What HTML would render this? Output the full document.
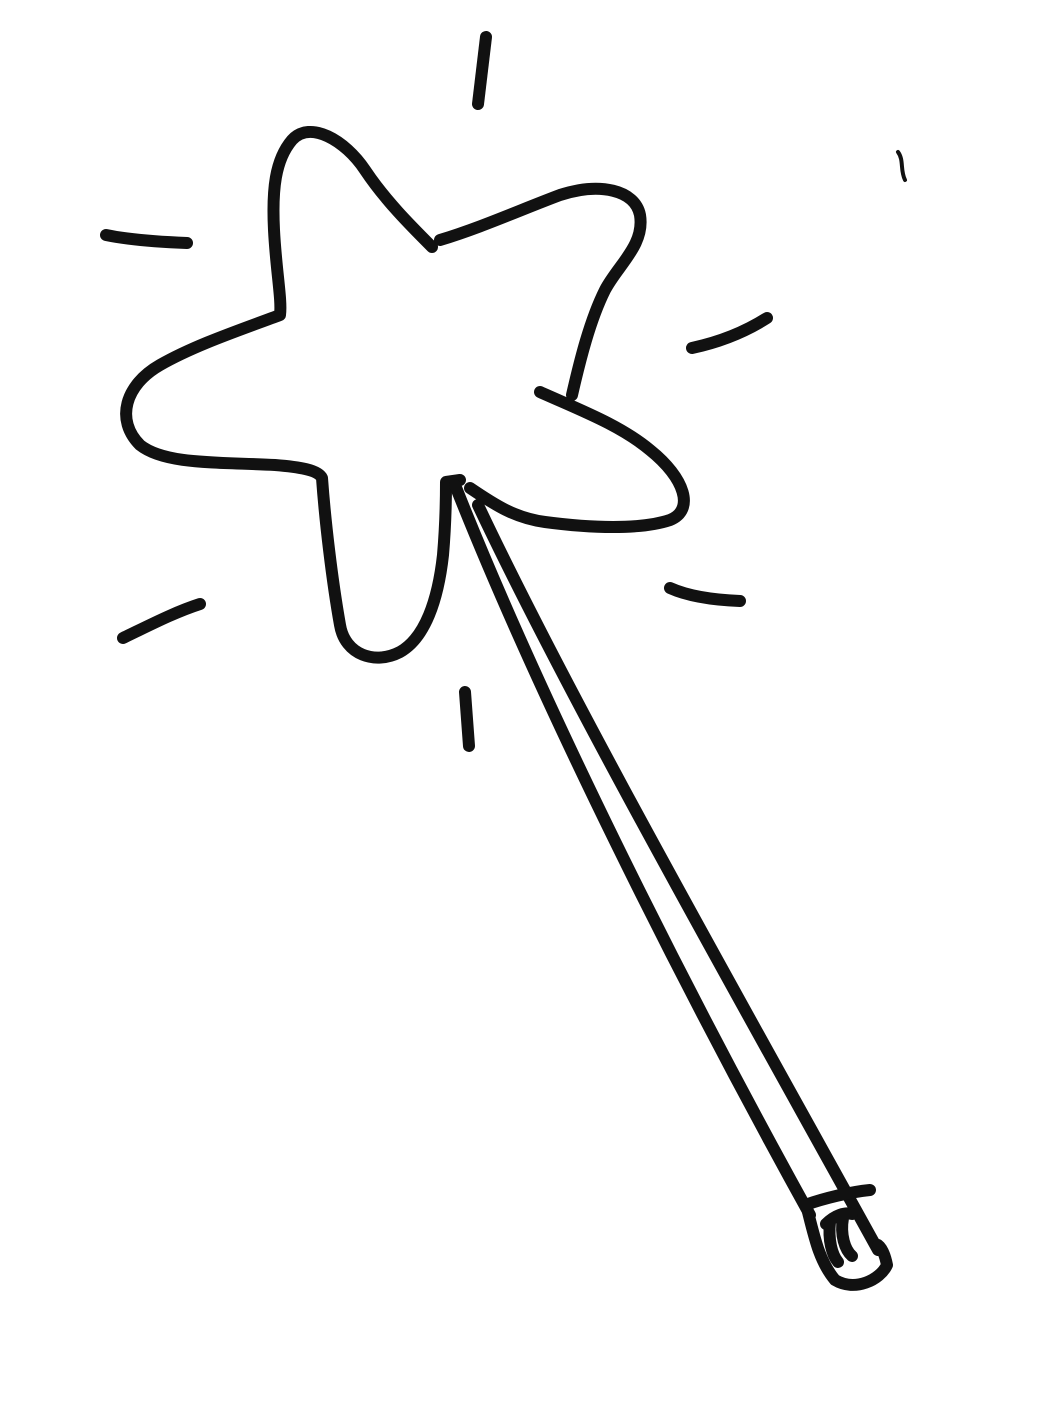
<!DOCTYPE html>
<html><head><meta charset="utf-8"><style>html,body{margin:0;padding:0;background:#fff;}svg{display:block}</style></head>
<body>
<svg width="1045" height="1426" viewBox="0 0 1045 1426" xmlns="http://www.w3.org/2000/svg">
<g fill="none" stroke="#111" stroke-width="12" stroke-linecap="round" stroke-linejoin="round">
<path d="M432,247 C410,225 385,200 365,170 C345,140 310,120 292,140 C275,160 272,190 274,230 C276,270 282,300 280,315 C240,330 195,345 160,365 C125,385 115,420 140,445 C165,465 220,462 275,465 C300,467 318,470 322,478 C325,520 332,580 340,625 C345,655 375,665 400,652 C425,638 438,600 443,555 C446,520 446,495 446,482 L460,480"/>
<path d="M440,240 C480,228 520,210 560,195 C600,182 635,190 640,215 C645,245 618,265 605,290 C590,320 580,360 572,395"/>
<path d="M540,392 C580,410 620,425 650,450 C685,478 695,510 670,520 C640,530 590,528 545,522 C515,518 495,505 470,488"/>
<path d="M455,485 C540,700 680,980 810,1215"/>
<path d="M478,505 C570,700 740,1000 878,1250"/>
<path d="M808,1212 C815,1240 820,1262 835,1280 C855,1292 880,1280 887,1265 C885,1255 882,1248 878,1245"/>
<path d="M805,1205 C825,1198 850,1192 870,1190"/>
<path d="M830,1222 C828,1240 832,1255 838,1262 M843,1218 C840,1235 845,1250 852,1256 M826,1224 C835,1215 845,1212 852,1214"/>
<path d="M486,37 L478,104"/>
<path d="M106,235 C130,240 160,242 187,243"/>
<path d="M898,152 C904,160 900,170 905,180" stroke-width="4"/>
<path d="M692,348 C720,342 745,332 767,318"/>
<path d="M123,638 C150,625 175,612 200,604"/>
<path d="M670,588 C690,597 715,600 740,601"/>
<path d="M465,692 L469,746"/>
</g>
</svg>
</body></html>
